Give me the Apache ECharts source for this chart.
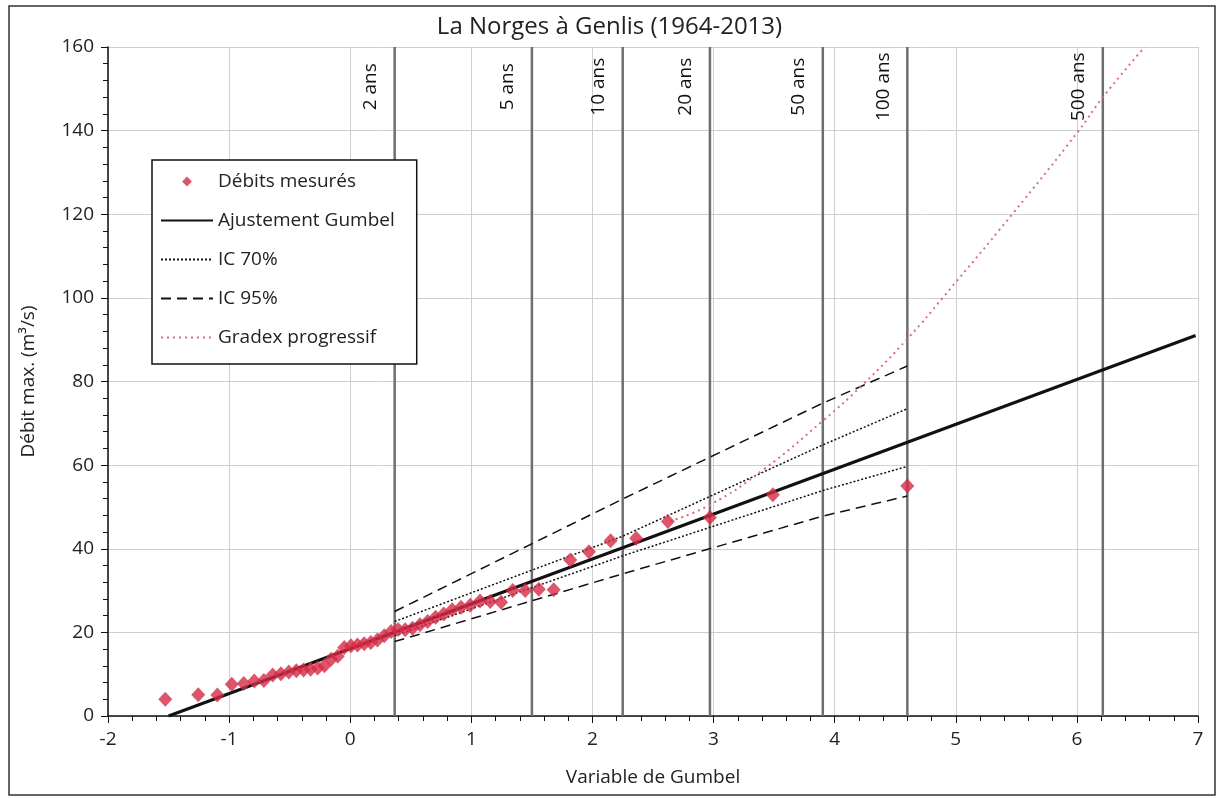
<!DOCTYPE html>
<html>
<head>
<meta charset="utf-8">
<script src="https://cdn.jsdelivr.net/npm/echarts@6/dist/echarts.min.js"></script>
<style>
  html, body { margin: 0; padding: 0; background: #fff; }
  #chart { width: 1219px; height: 798px; }
</style>
</head>
<body>
<div id="chart"></div>
<script>
// Gumbel reduced variate of each measured annual maximum (x) and the discharge (y, m3/s)
var obsU = [-1.527, -1.255, -1.097, -0.978, -0.879, -0.792, -0.713, -0.640, -0.572, -0.507,
  -0.445, -0.385, -0.327, -0.269, -0.213, -0.158, -0.103, -0.049, 0.006, 0.060,
  0.115, 0.170, 0.225, 0.281, 0.338, 0.395, 0.454, 0.514, 0.576, 0.639,
  0.705, 0.772, 0.842, 0.915, 0.991, 1.072, 1.156, 1.246, 1.342, 1.445,
  1.557, 1.680, 1.817, 1.971, 2.150, 2.361, 2.623, 2.970, 3.490, 4.600];
var obsQ = [4.0, 5.1, 5.0, 7.6, 7.8, 8.4, 8.5, 9.8, 10.1, 10.5,
  10.8, 11.0, 11.2, 11.5, 12.0, 13.6, 14.3, 16.4, 16.8, 17.0,
  17.3, 17.6, 18.2, 19.2, 20.2, 20.7, 20.6, 21.0, 21.8, 22.6,
  23.6, 24.4, 25.4, 26.0, 26.5, 27.5, 27.4, 27.2, 30.0, 30.0,
  30.3, 30.2, 37.3, 39.3, 41.9, 42.5, 46.5, 47.5, 52.9, 55.0];

// Gumbel fit
var fitU = [-1.50, 6.98];
var fitQ = [0.0, 91.0];

// confidence bands
var icU = [0.367, 2.25, 3.9, 4.6];
var ic70Up = [22.6, 43.0, 64.8, 73.5];
var ic70Low = [19.2, 38.3, 53.9, 59.7];
var ic95Up = [25.0, 51.9, 74.8, 83.7];
var ic95Low = [17.8, 34.0, 47.8, 52.6];

// progressive gradex
var gradexU = [2.64, 2.97, 3.41, 3.91, 4.23, 4.61, 4.90, 5.46, 6.01, 6.22, 6.56];
var gradexQ = [46.6, 50.5, 58.9, 70.8, 79.2, 90.5, 100.3, 119.8, 139.8, 148.2, 160.0];

// return periods
var returnU = [0.367, 1.500, 2.250, 2.970, 3.902, 4.600, 6.214];
var returnLabels = ["2 ans", "5 ans", "10 ans", "20 ans", "50 ans", "100 ans", "500 ans"];

function pairs(xs, ys) {
  return xs.map(function (x, i) { return [x, ys[i]]; });
}

var font = '"Open Sans", "Noto Sans", sans-serif';
var txt = "#222";
var chart = echarts.init(document.getElementById("chart"));

// small diamond for the legend, padded so it is not stretched
var diamondIcon = "path://M0,0 M20,20 M10,3 L17,10 L10,17 L3,10 Z";

chart.setOption({
  backgroundColor: "#fff",
  animation: false,
  title: {
    text: "La Norges à Genlis (1964-2013)",
    left: "center",
    top: 10,
    textStyle: { fontFamily: font, fontSize: 24, fontWeight: "normal", color: txt }
  },
  graphic: [{
    type: "rect",
    shape: { x: 9, y: 6, width: 1206, height: 789 },
    style: { fill: "none", stroke: "#333", lineWidth: 1.5 },
    silent: true
  }],
  grid: { left: 108, right: 21, top: 47, bottom: 82 },
  legend: {
    orient: "vertical",
    left: 152,
    top: 160,
    padding: [12, 22, 17, 8],
    itemGap: 20,
    itemWidth: 52,
    itemHeight: 14,
    backgroundColor: "#fff",
    borderColor: "#111",
    borderWidth: 1.5,
    textStyle: { fontFamily: font, fontSize: 19, color: txt },
    data: [
      { name: "Débits mesurés", icon: diamondIcon },
      { name: "Ajustement Gumbel", itemStyle: { opacity: 0 } },
      { name: "IC 70%", itemStyle: { opacity: 0 } },
      { name: "IC 95%", itemStyle: { opacity: 0 } },
      { name: "Gradex progressif", itemStyle: { opacity: 0 } }
    ]
  },
  xAxis: {
    type: "value",
    min: -2,
    max: 7,
    interval: 1,
    name: "Variable de Gumbel",
    nameLocation: "middle",
    nameGap: 52,
    nameTextStyle: { fontFamily: font, fontSize: 19, color: txt },
    axisLine: { onZero: false, lineStyle: { color: "#111", width: 1.5 } },
    axisTick: { length: 7, lineStyle: { color: "#111" } },
    minorTick: { show: true, splitNumber: 5, length: 5, lineStyle: { color: "#111" } },
    axisLabel: { fontFamily: font, fontSize: 19, color: txt, margin: 14 },
    splitLine: { lineStyle: { color: "#cfcfcf", width: 1 } }
  },
  yAxis: {
    type: "value",
    min: 0,
    max: 160,
    interval: 20,
    name: "Débit max. (m³/s)",
    nameLocation: "middle",
    nameGap: 70,
    nameTextStyle: { fontFamily: font, fontSize: 19, color: txt },
    axisLine: { show: true, onZero: false, lineStyle: { color: "#111", width: 1.5 } },
    axisTick: { show: true, length: 7, lineStyle: { color: "#111" } },
    minorTick: { show: true, splitNumber: 5, length: 5, lineStyle: { color: "#111" } },
    axisLabel: { fontFamily: font, fontSize: 19, color: txt, margin: 14 },
    splitLine: { lineStyle: { color: "#cfcfcf", width: 1 } }
  },
  series: [
    {
      name: "periodes",
      type: "custom",
      z: 1,
      silent: true,
      data: returnU.map(function (u) { return [u, 0]; }),
      renderItem: function (params, api) {
        var u = api.value(0);
        var p0 = api.coord([u, 0]);
        var p1 = api.coord([u, 160]);
        var pt = api.coord([u, 150.5]);
        return {
          type: "group",
          children: [
            {
              type: "line",
              shape: { x1: p0[0], y1: p0[1], x2: p1[0], y2: p1[1] },
              style: { stroke: "#6f6f6f", lineWidth: 2.5 }
            },
            {
              type: "text",
              x: pt[0] - 24,
              y: pt[1],
              rotation: Math.PI / 2,
              style: {
                text: returnLabels[params.dataIndex],
                font: "19px " + font,
                fill: "#111",
                align: "center",
                verticalAlign: "middle"
              }
            }
          ]
        };
      }
    },
    {
      name: "IC 95%",
      type: "line",
      z: 3,
      symbol: "none",
      color: "#111",
      lineStyle: { color: "#111", width: 1.5, type: [10, 6] },
      data: pairs(icU, ic95Up)
    },
    {
      name: "IC 95%",
      type: "line",
      z: 3,
      symbol: "none",
      color: "#111",
      lineStyle: { color: "#111", width: 1.5, type: [10, 6] },
      data: pairs(icU, ic95Low)
    },
    {
      name: "IC 70%",
      type: "line",
      z: 3,
      symbol: "none",
      color: "#111",
      lineStyle: { color: "#111", width: 1.5, type: [2, 2] },
      data: pairs(icU, ic70Up)
    },
    {
      name: "IC 70%",
      type: "line",
      z: 3,
      symbol: "none",
      color: "#111",
      lineStyle: { color: "#111", width: 1.5, type: [2, 2] },
      data: pairs(icU, ic70Low)
    },
    {
      name: "Gradex progressif",
      type: "line",
      z: 3,
      symbol: "none",
      smooth: true,
      color: "#d6707a",
      lineStyle: { color: "#d6707a", width: 2, type: [2, 4] },
      data: pairs(gradexU, gradexQ)
    },
    {
      name: "Ajustement Gumbel",
      type: "line",
      z: 4,
      symbol: "none",
      color: "#111",
      lineStyle: { color: "#111", width: 3 },
      data: pairs(fitU, fitQ)
    },
    {
      name: "Débits mesurés",
      type: "scatter",
      z: 5,
      symbol: "diamond",
      symbolSize: [14, 15],
      itemStyle: { color: "#d52b46" },
      data: pairs(obsU, obsQ)
    }
  ]
});
</script>
</body>
</html>
